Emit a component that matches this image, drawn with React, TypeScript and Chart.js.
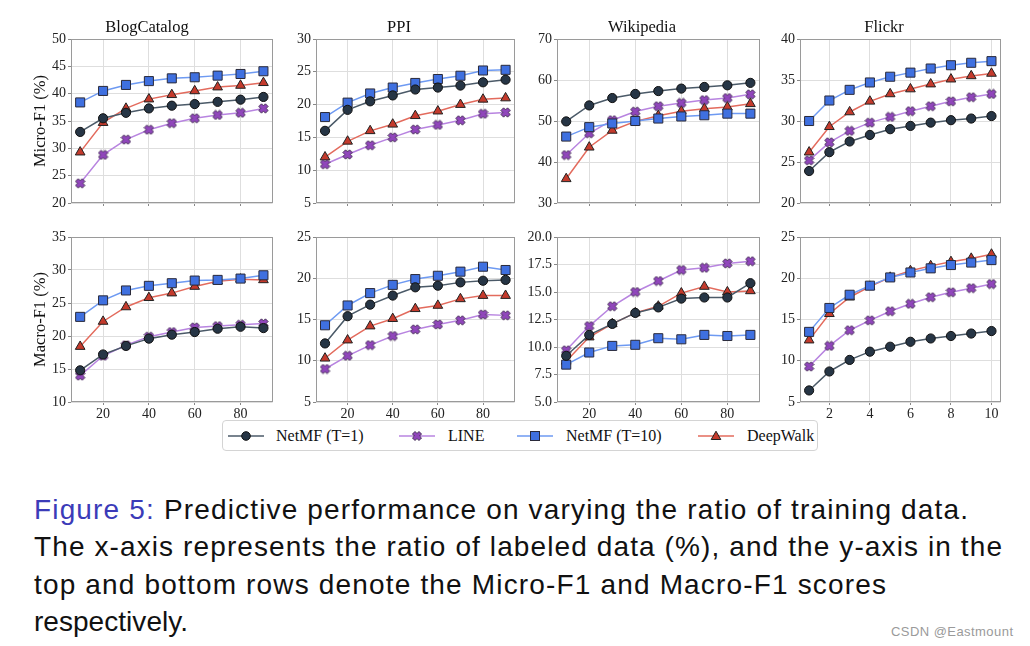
import React, { useEffect, useRef } from 'react';
import { Chart, registerables } from 'chart.js';

Chart.register(...registerables);

// ---------------- data ----------------
const ratioPct = [10, 20, 30, 40, 50, 60, 70, 80, 90];
const ratioFlickr = [1, 2, 3, 4, 5, 6, 7, 8, 9, 10];
const xTicksPct = [20, 40, 60, 80];
const xTicksFlickr = [2, 4, 6, 8, 10];

const yTicksBlogMicro = [20, 25, 30, 35, 40, 45, 50];
const yTicksPpiMicro = [5, 10, 15, 20, 25, 30];
const yTicksWikiMicro = [30, 40, 50, 60, 70];
const yTicksFlickrMicro = [20, 25, 30, 35, 40];
const yTicksBlogMacro = [10, 15, 20, 25, 30, 35];
const yTicksPpiMacro = [5, 10, 15, 20, 25];
const yTicksWikiMacro = [5, 7.5, 10, 12.5, 15, 17.5, 20];
const yTicksFlickrMacro = [5, 10, 15, 20, 25];

const datasetNames = ['NetMF (T=1)', 'LINE', 'NetMF (T=10)', 'DeepWalk'];
const panelTitles = ['BlogCatalog', 'PPI', 'Wikipedia', 'Flickr'];
const rowLabels = ['Micro-F1 (%)', 'Macro-F1 (%)'];
const captionLines = [
  'Predictive performance on varying the ratio of training data.',
  'The x-axis represents the ratio of labeled data (%), and the y-axis in the',
  'top and bottom rows denote the Micro-F1 and Macro-F1 scores',
  'respectively.',
];
const captionLead = 'Figure 5: ';
const watermark = 'CSDN @Eastmount';

// BlogCatalog Micro-F1
const blogMicroT1 = [33.0, 35.5, 36.5, 37.3, 37.8, 38.1, 38.5, 38.9, 39.4];
const blogMicroLine = [23.6, 28.8, 31.6, 33.4, 34.6, 35.5, 36.1, 36.5, 37.3];
const blogMicroT10 = [38.4, 40.5, 41.6, 42.3, 42.8, 43.0, 43.3, 43.6, 44.1];
const blogMicroDw = [29.3, 34.7, 37.3, 39.0, 39.8, 40.5, 41.2, 41.5, 42.0];
// PPI Micro-F1
const ppiMicroT1 = [16.0, 19.2, 20.5, 21.4, 22.3, 22.6, 22.9, 23.4, 23.8];
const ppiMicroLine = [10.9, 12.4, 13.8, 15.0, 16.2, 16.9, 17.6, 18.6, 18.8];
const ppiMicroT10 = [18.1, 20.3, 21.7, 22.6, 23.3, 23.9, 24.4, 25.2, 25.3];
const ppiMicroDw = [12.0, 14.4, 16.0, 17.0, 18.3, 19.0, 20.0, 20.8, 21.0];
// Wikipedia Micro-F1
const wikiMicroT1 = [49.9, 53.8, 55.6, 56.6, 57.3, 57.9, 58.3, 58.7, 59.3];
const wikiMicroLine = [41.7, 47.0, 50.2, 52.3, 53.6, 54.4, 55.1, 55.6, 56.5];
const wikiMicroT10 = [46.2, 48.5, 49.4, 50.0, 50.6, 51.1, 51.4, 51.8, 51.8];
const wikiMicroDw = [35.9, 43.6, 47.7, 49.9, 51.3, 52.4, 53.0, 53.4, 54.2];
// Flickr Micro-F1
const flickrMicroT1 = [23.9, 26.2, 27.5, 28.3, 29.0, 29.4, 29.8, 30.1, 30.3, 30.6];
const flickrMicroLine = [25.2, 27.4, 28.8, 29.8, 30.5, 31.2, 31.8, 32.4, 32.9, 33.3];
const flickrMicroT10 = [30.0, 32.5, 33.8, 34.7, 35.4, 35.9, 36.4, 36.8, 37.1, 37.3];
const flickrMicroDw = [26.2, 29.3, 31.1, 32.4, 33.3, 33.9, 34.5, 35.1, 35.5, 35.8];
// BlogCatalog Macro-F1
const blogMacroT1 = [14.8, 17.2, 18.5, 19.6, 20.2, 20.6, 21.1, 21.4, 21.2];
const blogMacroLine = [14.0, 17.0, 18.6, 19.9, 20.6, 21.3, 21.5, 21.7, 21.9];
const blogMacroT10 = [22.9, 25.4, 26.9, 27.6, 28.0, 28.4, 28.5, 28.7, 29.2];
const blogMacroDw = [18.4, 22.2, 24.4, 25.8, 26.5, 27.5, 28.3, 28.6, 28.5];
// PPI Macro-F1
const ppiMacroT1 = [12.1, 15.4, 16.8, 17.9, 18.9, 19.1, 19.5, 19.7, 19.8];
const ppiMacroLine = [9.0, 10.6, 11.9, 13.0, 13.8, 14.4, 14.9, 15.6, 15.5];
const ppiMacroT10 = [14.3, 16.7, 18.2, 19.2, 19.9, 20.3, 20.8, 21.4, 21.0];
const ppiMacroDw = [10.3, 12.5, 14.2, 15.1, 16.3, 16.7, 17.5, 17.9, 17.9];
// Wikipedia Macro-F1
const wikiMacroT1 = [9.2, 11.1, 12.1, 13.1, 13.6, 14.4, 14.5, 14.5, 15.8];
const wikiMacroLine = [9.7, 11.9, 13.7, 15.0, 16.0, 17.0, 17.2, 17.6, 17.8];
const wikiMacroT10 = [8.4, 9.5, 10.1, 10.2, 10.8, 10.7, 11.1, 11.0, 11.1];
const wikiMacroDw = [8.7, 10.9, 12.1, 13.1, 13.7, 14.9, 15.5, 15.0, 15.1];
// Flickr Macro-F1
const flickrMacroT1 = [6.4, 8.7, 10.1, 11.1, 11.7, 12.3, 12.7, 13.0, 13.3, 13.6];
const flickrMacroLine = [9.3, 11.8, 13.7, 14.9, 16.0, 16.9, 17.7, 18.3, 18.8, 19.3];
const flickrMacroT10 = [13.5, 16.4, 18.0, 19.1, 20.1, 20.7, 21.2, 21.6, 21.9, 22.2];
const flickrMacroDw = [12.5, 15.7, 17.7, 19.0, 20.1, 20.9, 21.5, 22.0, 22.4, 22.9];

// ---------------- styles / layout ----------------
const SERIF = "'Liberation Serif', 'DejaVu Serif', serif";
const SANS = "'Liberation Sans', Arial, sans-serif";
const GRID = '#dedede';
const FRAME = '#9a9a9a';
const PLOT_L = [71, 316, 557, 800];
const PLOT_R = [274, 516, 761, 1002];

const STYLE = {
  t1: { line: '#4b5a68', fill: '#263545', edge: '#111111' },
  line: { line: '#b884e0', fill: '#9046bb', edge: '#3a2848' },
  t10: { line: '#6e9af2', fill: '#3f70e0', edge: '#2a2a3a' },
  dw: { line: '#e36b5d', fill: '#c43a2c', edge: '#222222' },
};

type PanelDef = {
  row: number;
  col: number;
  x: number[];
  xTicks: number[];
  xMin: number;
  xMax: number;
  yMin: number;
  yMax: number;
  yTicks: number[];
  decimals: number;
  t1: number[];
  line: number[];
  t10: number[];
  dw: number[];
};

const pctRange = { x: ratioPct, xTicks: xTicksPct, xMin: 6, xMax: 94 };
const flickrRange = { x: ratioFlickr, xTicks: xTicksFlickr, xMin: 0.55, xMax: 10.45 };

const panels: PanelDef[] = [
  { row: 0, col: 0, ...pctRange, yMin: 20, yMax: 50, yTicks: yTicksBlogMicro, decimals: 0, t1: blogMicroT1, line: blogMicroLine, t10: blogMicroT10, dw: blogMicroDw },
  { row: 0, col: 1, ...pctRange, yMin: 5, yMax: 30, yTicks: yTicksPpiMicro, decimals: 0, t1: ppiMicroT1, line: ppiMicroLine, t10: ppiMicroT10, dw: ppiMicroDw },
  { row: 0, col: 2, ...pctRange, yMin: 30, yMax: 70, yTicks: yTicksWikiMicro, decimals: 0, t1: wikiMicroT1, line: wikiMicroLine, t10: wikiMicroT10, dw: wikiMicroDw },
  { row: 0, col: 3, ...flickrRange, yMin: 20, yMax: 40, yTicks: yTicksFlickrMicro, decimals: 0, t1: flickrMicroT1, line: flickrMicroLine, t10: flickrMicroT10, dw: flickrMicroDw },
  { row: 1, col: 0, ...pctRange, yMin: 10, yMax: 35, yTicks: yTicksBlogMacro, decimals: 0, t1: blogMacroT1, line: blogMacroLine, t10: blogMacroT10, dw: blogMacroDw },
  { row: 1, col: 1, ...pctRange, yMin: 5, yMax: 25, yTicks: yTicksPpiMacro, decimals: 0, t1: ppiMacroT1, line: ppiMacroLine, t10: ppiMacroT10, dw: ppiMacroDw },
  { row: 1, col: 2, ...pctRange, yMin: 5, yMax: 20, yTicks: yTicksWikiMacro, decimals: 1, t1: wikiMacroT1, line: wikiMacroLine, t10: wikiMacroT10, dw: wikiMacroDw },
  { row: 1, col: 3, ...flickrRange, yMin: 5, yMax: 25, yTicks: yTicksFlickrMacro, decimals: 0, t1: flickrMacroT1, line: flickrMacroLine, t10: flickrMacroT10, dw: flickrMacroDw },
];

// filled "X" marker (matplotlib style)
function xPoints(cx: number, cy: number, L: number, w: number): [number, number][] {
  const base: [number, number][] = [
    [w, w], [w, L], [-w, L], [-w, w], [-L, w], [-L, -w],
    [-w, -w], [-w, -L], [w, -L], [w, -w], [L, -w], [L, w],
  ];
  const c = Math.SQRT1_2;
  return base.map(([x, y]) => [cx + (x - y) * c, cy + (x + y) * c]);
}

let xMarkerCache: HTMLCanvasElement | null = null;
function getXMarker(): HTMLCanvasElement {
  if (xMarkerCache) return xMarkerCache;
  const c = document.createElement('canvas');
  c.width = 11;
  c.height = 11;
  const g = c.getContext('2d')!;
  const pts = xPoints(5.5, 5.5, 4.7, 1.9);
  g.beginPath();
  pts.forEach(([x, y], i) => (i ? g.lineTo(x, y) : g.moveTo(x, y)));
  g.closePath();
  g.fillStyle = STYLE.line.fill;
  g.fill();
  g.lineWidth = 0.9;
  g.strokeStyle = STYLE.line.edge;
  g.stroke();
  xMarkerCache = c;
  return c;
}

const framePlugin = {
  id: 'frame',
  beforeDatasetsDraw(chart: any) {
    const { ctx, chartArea: a } = chart;
    ctx.save();
    ctx.strokeStyle = FRAME;
    ctx.lineWidth = 1;
    const l = Math.round(a.left) + 0.5;
    const t = Math.round(a.top) + 0.5;
    const r = Math.round(a.right) - 0.5;
    const b = Math.round(a.bottom) - 0.5;
    ctx.strokeRect(l, t, r - l, b - t);
    ctx.restore();
  },
};

function Panel({ p }: { p: PanelDef }) {
  const ref = useRef<HTMLCanvasElement>(null);
  const plotL = PLOT_L[p.col];
  const plotR = PLOT_R[p.col];
  const canvasLeft = p.col === 0 ? 20 : plotL - 34;
  const yw = plotL - canvasLeft;
  const rightPad = 6;
  const width = plotR - canvasLeft + rightPad;
  const top = p.row === 0 ? 0 : 225;
  const height = p.row === 0 ? 215 : 205;
  const xh = p.row === 0 ? 12 : 28;

  useEffect(() => {
    const mk = (arr: number[]) => arr.map((v, i) => ({ x: p.x[i], y: v }));
    const tickFont = { family: SERIF, size: 14 };
    const chart = new Chart(ref.current!, {
      type: 'line',
      data: {
        datasets: [
          {
            label: datasetNames[0], data: mk(p.t1), borderColor: STYLE.t1.line, borderWidth: 1.5,
            pointStyle: 'circle', pointRadius: 4.6, pointBackgroundColor: STYLE.t1.fill,
            pointBorderColor: STYLE.t1.edge, pointBorderWidth: 1,
          },
          {
            label: datasetNames[2], data: mk(p.t10), borderColor: STYLE.t10.line, borderWidth: 1.5,
            pointStyle: 'rect', pointRadius: 6.4, pointBackgroundColor: STYLE.t10.fill,
            pointBorderColor: STYLE.t10.edge, pointBorderWidth: 1,
          },
          {
            label: datasetNames[1], data: mk(p.line), borderColor: STYLE.line.line, borderWidth: 1.5,
            pointStyle: getXMarker(), pointRadius: 5, pointBackgroundColor: STYLE.line.fill,
            pointBorderColor: STYLE.line.edge, pointBorderWidth: 1,
          },
          {
            label: datasetNames[3], data: mk(p.dw), borderColor: STYLE.dw.line, borderWidth: 1.5,
            pointStyle: 'triangle', pointRadius: 5.6, pointBackgroundColor: STYLE.dw.fill,
            pointBorderColor: STYLE.dw.edge, pointBorderWidth: 1,
          },
        ],
      },
      options: {
        responsive: false,
        maintainAspectRatio: false,
        animation: false,
        devicePixelRatio: 1,
        layout: { padding: { top: p.row === 0 ? 0 : 12, right: rightPad, left: 0, bottom: 0 } },
        elements: { line: { tension: 0 } },
        plugins: {
          legend: { display: false },
          tooltip: { enabled: false },
          title: {
            display: p.row === 0,
            text: panelTitles[p.col],
            color: '#111',
            font: { family: SERIF, size: 16.5, weight: 'normal' },
            padding: { top: 18.2, bottom: 1 },
          },
        },
        scales: {
          x: {
            type: 'linear',
            min: p.xMin,
            max: p.xMax,
            afterBuildTicks: (s: any) => { s.ticks = p.xTicks.map((v) => ({ value: v })); },
            afterFit: (s: any) => { s.height = xh; },
            border: { display: false },
            grid: { color: GRID, tickColor: '#888', tickLength: 3, lineWidth: 1 },
            ticks: {
              display: p.row === 1,
              color: '#222',
              font: tickFont,
              padding: 1,
              maxRotation: 0,
              autoSkip: false,
              callback: (v: any) => String(v),
            },
          },
          y: {
            type: 'linear',
            min: p.yMin,
            max: p.yMax,
            afterBuildTicks: (s: any) => { s.ticks = p.yTicks.map((v) => ({ value: v })); },
            afterFit: (s: any) => { s.width = yw; },
            border: { display: false },
            grid: { color: GRID, tickColor: '#888', tickLength: 3, lineWidth: 1 },
            title: {
              display: p.col === 0,
              text: rowLabels[p.row],
              color: '#111',
              font: { family: SERIF, size: 16.5 },
              padding: { top: 11.1, bottom: 0 },
            },
            ticks: {
              color: '#222',
              font: tickFont,
              padding: 2,
              autoSkip: false,
              callback: (v: any) => Number(v).toFixed(p.decimals),
            },
          },
        },
      } as any,
      plugins: [framePlugin],
    });
    return () => chart.destroy();
  }, []);

  return (
    <canvas
      ref={ref}
      width={width}
      height={height}
      style={{ position: 'absolute', left: canvasLeft, top, width, height, display: 'block' }}
    />
  );
}

function LegendIcon({ kind }: { kind: 't1' | 'line' | 't10' | 'dw' }) {
  const s = STYLE[kind];
  let marker: any = null;
  if (kind === 't1') marker = <circle cx={18} cy={8} r={4.3} fill={s.fill} stroke={s.edge} strokeWidth={1} />;
  if (kind === 't10') marker = <rect x={13.5} y={3.5} width={9} height={9} fill={s.fill} stroke={s.edge} strokeWidth={1} />;
  if (kind === 'dw') marker = <polygon points="18,3.2 22.8,11.5 13.2,11.5" fill={s.fill} stroke={s.edge} strokeWidth={1} />;
  if (kind === 'line') {
    const pts = xPoints(18, 8, 4.6, 1.8).map(([x, y]) => `${x},${y}`).join(' ');
    marker = <polygon points={pts} fill={s.fill} stroke={s.edge} strokeWidth={0.9} />;
  }
  return (
    <svg width={36} height={16} style={{ display: 'block' }}>
      <line x1={0} y1={8} x2={36} y2={8} stroke={s.line} strokeWidth={1.6} />
      {marker}
    </svg>
  );
}

function measureSpacing(text: string, font: string, target: number): number {
  const ctx = document.createElement('canvas').getContext('2d')!;
  ctx.font = font;
  const w = ctx.measureText(text).width;
  return (target - w) / Math.max(1, text.length - 1);
}

export default function App() {
  const legendItems: { kind: 't1' | 'line' | 't10' | 'dw'; icon: number; text: number; label: string }[] = [
    { kind: 't1', icon: 228, text: 276, label: datasetNames[0] },
    { kind: 'line', icon: 399, text: 448, label: datasetNames[1] },
    { kind: 't10', icon: 517, text: 566, label: datasetNames[2] },
    { kind: 'dw', icon: 698, text: 747, label: datasetNames[3] },
  ];

  const capFont = `28px ${SANS}`;
  const capStart = 34;
  const capEnds = [968, 1002, 886, 188];
  const baselines = [519.5, 557, 594.5, 632];
  const fullLines = captionLines.map((l, i) => (i === 0 ? captionLead + l : l));

  return (
    <div style={{ position: 'absolute', left: 0, top: 0, width: 1030, height: 646, background: '#fff', overflow: 'hidden' }}>
      {panels.map((p, i) => (
        <Panel key={i} p={p} />
      ))}

      <div
        style={{
          position: 'absolute', left: 222, top: 420, width: 596, height: 31,
          border: '1px solid #d4d4d4', borderRadius: 4, boxSizing: 'border-box', background: '#fff',
        }}
      />
      {legendItems.map((it) => (
        <React.Fragment key={it.kind}>
          <div style={{ position: 'absolute', left: it.icon, top: 428 }}>
            <LegendIcon kind={it.kind} />
          </div>
          <div
            style={{
              position: 'absolute', left: it.text, top: 426, height: 20, lineHeight: '20px',
              fontFamily: SERIF, fontSize: 16, color: '#111', whiteSpace: 'nowrap',
            }}
          >
            {it.label}
          </div>
        </React.Fragment>
      ))}

      {fullLines.map((line, i) => {
        const ls = measureSpacing(line, capFont, capEnds[i] - capStart);
        const top = baselines[i] - 23.7;
        return (
          <div
            key={i}
            style={{
              position: 'absolute', left: capStart, top, height: 28, lineHeight: '28px',
              fontFamily: SANS, fontSize: 28, color: '#111', whiteSpace: 'nowrap', letterSpacing: ls,
            }}
          >
            {i === 0 ? (
              <>
                <span style={{ color: '#3b3bb8' }}>{captionLead}</span>
                {captionLines[0]}
              </>
            ) : (
              line
            )}
          </div>
        );
      })}

      <div
        style={{
          position: 'absolute', left: 891, top: 625, height: 13, lineHeight: '13px',
          fontFamily: SANS, fontSize: 13, color: '#9a9a9a', whiteSpace: 'nowrap',
          letterSpacing: measureSpacing(watermark, `13px ${SANS}`, 122),
        }}
      >
        {watermark}
      </div>
    </div>
  );
}
